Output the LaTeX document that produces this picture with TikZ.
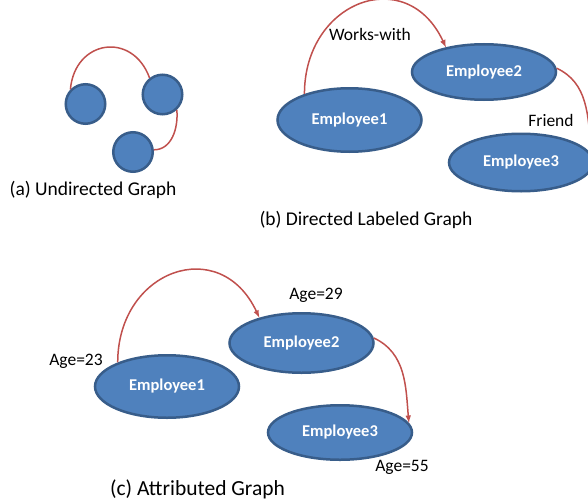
\documentclass[tikz,border=0pt]{standalone}
\usepackage{fontspec}
\setmainfont{Carlito}
\usepackage{tikz}
\usetikzlibrary{shapes.geometric}
\definecolor{empfill}{HTML}{4F81BD}
\definecolor{empline}{HTML}{385D8A}
\definecolor{relred}{HTML}{C0504D}

\begin{document}
\begin{tikzpicture}[x=1pt,y=-1pt,
        emp/.style={ellipse,draw=empline,fill=empfill,line width=2.5pt,inner sep=0pt,minimum width=144pt,text=white,font=\fontsize{16.5}{18}\selectfont\bfseries},
        dot/.style={circle,draw=empline,fill=empfill,line width=2.5pt,inner sep=0pt,minimum size=39.5pt},
        rel/.style={draw=relred,line width=1.5pt},
        lbl/.style={font=\fontsize{17.5}{20}\selectfont},
        captxt/.style={font=\fontsize{19.5}{22}\selectfont}]
        \useasboundingbox (0,0) rectangle (588,503);
        \node [dot] (a1) at (85.5,104) {};
        \node [dot] (a2) at (162.5,94.5) {};
        \node [dot] (a3) at (133,152) {};
        \draw [rel] (a1.136) to [out=85,in=110,looseness=1.6] (a2.128);
        \draw [rel] (a2.-47) to [out=-85,in=0] (a3.6);
        \node [captxt] (capa) at (93,190) {(a) Undirected Graph};
        \node [emp,minimum height=63.5pt] (b1) at (349.5,120) {Employee1};
        \node [emp,minimum height=55.5pt] (b2) at (484,72) {Employee2};
        \node [emp,minimum height=57.5pt] (b3) at (521,162.5) {Employee3};
        \coordinate (fr) at (591,150);
        \draw [rel,-latex] (b1.150) to [out=90,in=115,looseness=1.6] (b2.147);
        \draw [rel] (b2.3) to [out=-25,in=95] (fr);
        \node [lbl] (works) at (370,34) {Works-with};
        \node [lbl] (friend) at (551,120) {Friend};
        \node [captxt] (capb) at (366,220) {(b) Directed Labeled Graph};
        \node [emp,minimum height=62.5pt] (c1) at (167,386.5) {Employee1};
        \node [emp,minimum height=59.5pt] (c2) at (301.5,343) {Employee2};
        \node [emp,minimum height=54.5pt] (c3) at (340,432.5) {Employee3};
        \draw [rel,-latex] (c1.154) to [out=90,in=115,looseness=1.6] (c2.149);
        \draw [rel,-latex] (c2.4) to [out=-25,in=95] (c3.8);
        \node [lbl] (age1) at (76,361) {Age=23};
        \node [lbl] (age2) at (316,295) {Age=29};
        \node [lbl] (age3) at (402,467) {Age=55};
        \node [captxt,font=\fontsize{21.5}{24}\selectfont] (capc) at (197.5,489) {(c) Attributed Graph};
    \end{tikzpicture}
\end{document}
